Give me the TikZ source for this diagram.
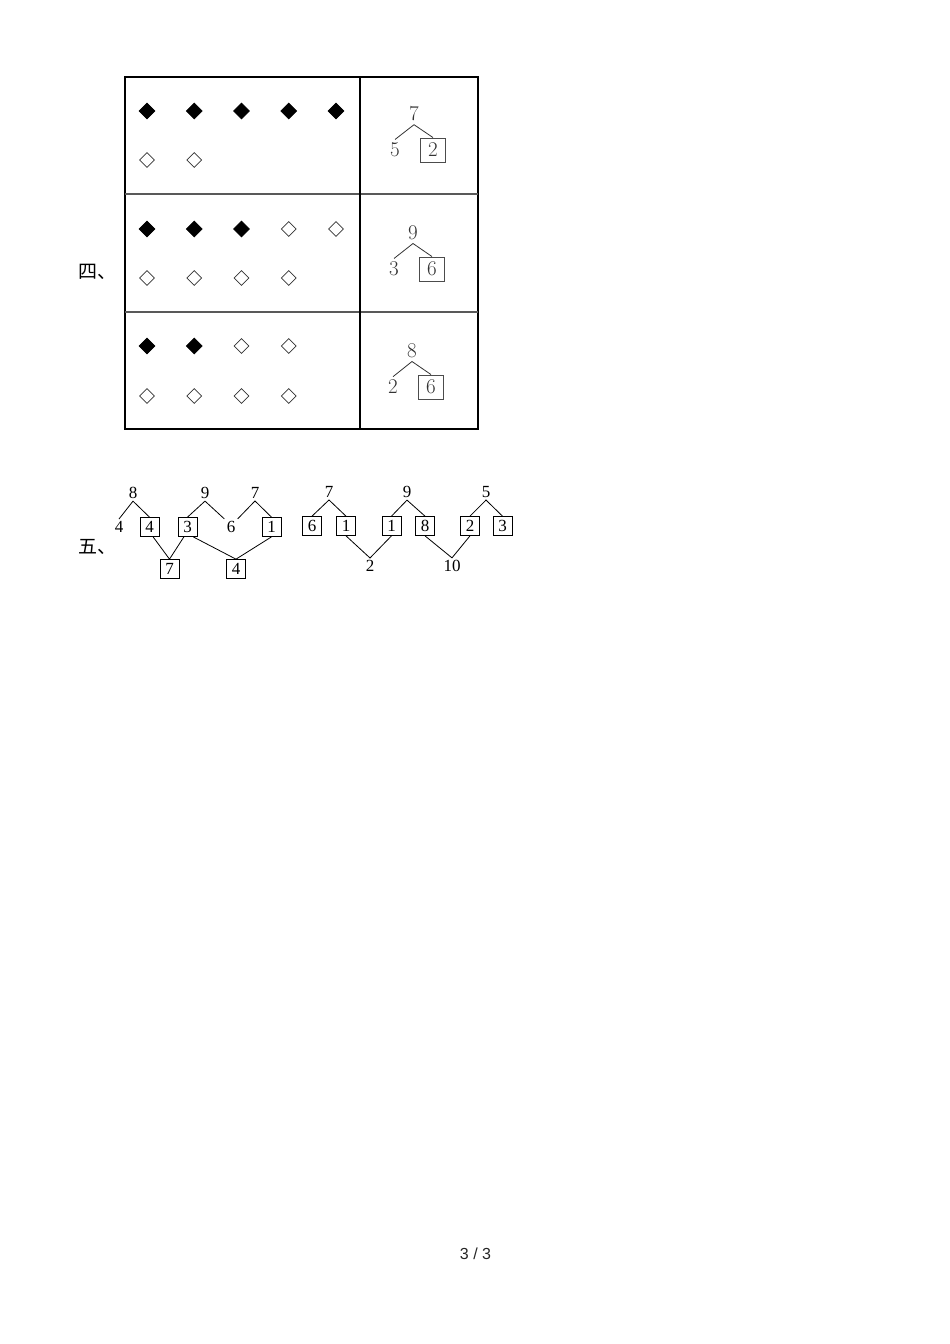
\documentclass[tikz,border=0pt]{standalone}
\usepackage{fontspec}
\newfontfamily\cjkfont{Noto Sans CJK SC}
\newfontfamily\timesfont{Liberation Serif}
\newfontfamily\arialfont{Liberation Sans}
\usepackage{tikz}
\usetikzlibrary{shapes.geometric}
\tikzset{
  dm_b/.style = {diamond, aspect=1, fill=black, draw=black, inner sep=0pt, minimum size=16pt},% filled diamond
  dm_w/.style = {diamond, aspect=1, draw=black!80, line width=0.7pt, inner sep=0pt, minimum size=15pt},% empty diamond
  nd_tbl/.style = {inner sep=3pt, text=black!80, font=\fontsize{21}{21}\selectfont},% number in the table
  bx_tbl/.style = {nd_tbl, draw=black!70, line width=0.9pt, inner sep=0pt, minimum width=25pt, minimum height=24pt},% boxed number in the table
  nd_num/.style = {inner sep=2pt, font=\timesfont\fontsize{17}{17}\selectfont},% number
  bx_num/.style = {nd_num, draw=black, line width=0.7pt, inner sep=0pt, minimum size=19pt},% boxed number
  lbl/.style = {anchor=west, inner sep=0pt, font=\cjkfont\fontsize{19}{19}\selectfont}% part label
}
\begin{document}
\begin{tikzpicture}[x=1pt, y=-1pt, line width=0.8pt, level distance=36pt, sibling distance=38pt,
  edge from parent path={(\tikzparentnode.south) -- (\tikzchildnode.north)},
  edge from parent/.style={draw=black!80, line width=0.8pt}]
\useasboundingbox (0,0) rectangle (950,1344);
% part four
\node[lbl] (p4) at (78,272) {四、};
\draw[line width=1.6pt] (125,77) rectangle (478,429);
\draw[black!65, line width=1.1pt] (125,194) -- (360,194) (125,312) -- (478,312) (360,194) -- (478,194);
\draw[line width=1.1pt] (360,77) -- (360,429);
\foreach \y/\row in {111/{b,b,b,b,b}, 160/{w,w}, 229/{b,b,b,w,w}, 278/{w,w,w,w}, 346/{b,b,w,w}, 396/{w,w,w,w}}
  \foreach \t [count=\i] in \row
    \node[dm_\t] (d\y-\i) at ({147+47.25*(\i-1)},\y) {};
\node[nd_tbl] (t1) at (414,114) {7}
    child{ node [nd_tbl] (t1a) {5}}
    child{ node [bx_tbl] (t1b) {2}};
\node[nd_tbl] (t2) at (413,233) {9}
    child{ node [nd_tbl] (t2a) {3}}
    child{ node [bx_tbl] (t2b) {6}};
\node[nd_tbl] (t3) at (412,351) {8}
    child{ node [nd_tbl] (t3a) {2}}
    child{ node [bx_tbl] (t3b) {6}};
% part five
\node[lbl] (p5) at (78,547) {五、};
\node[nd_num] (n8) at (133,493) {8};
\node[nd_num] (n4) at (119,527) {4};
\node[bx_num] (b4a) at (149.5,527) {4};
\node[bx_num] (b3) at (187.5,527) {3};
\node[nd_num] (n9) at (205,493) {9};
\node[nd_num] (n6) at (231,527) {6};
\node[nd_num] (n7) at (255,493) {7};
\node[bx_num] (b1) at (271.5,527) {1};
\node[bx_num] (b7) at (169.5,569) {7};
\node[bx_num] (b4b) at (236,569) {4};
\draw (n4.north) -- (n8.south) -- (b4a.north);
\draw (b3.north) -- (n9.south) -- (n6.north west);
\draw (n6.north east) -- (n7.south) -- (b1.north);
\draw (b4a.-70) -- (b7.north) -- (b3.-110);
\draw (b3.-60) -- (b4b.north) -- (b1.south);
\node[nd_num] (m7) at (329,492) {7};
\node[bx_num] (c6) at (312,526) {6};
\node[bx_num] (c1) at (346,526) {1};
\node[nd_num] (m9) at (407,492) {9};
\node[bx_num] (c1b) at (391.5,526) {1};
\node[bx_num] (c8) at (425,526) {8};
\node[nd_num] (m5) at (486,492) {5};
\node[bx_num] (c2) at (470,526) {2};
\node[bx_num] (c3) at (502.5,526) {3};
\node[nd_num] (m2) at (370,566) {2};
\node[nd_num] (m10) at (452,566) {10};
\draw (c6.north) -- (m7.south) -- (c1.north);
\draw (c1b.north) -- (m9.south) -- (c8.north);
\draw (c2.north) -- (m5.south) -- (c3.north);
\draw (c1.south) -- (m2.north) -- (c1b.south);
\draw (c8.south) -- (m10.north) -- (c2.south);
% page number
\node[font=\arialfont\fontsize{16}{16}\selectfont, text=black!85] (pg) at (475.5,1254) {3 / 3};
\end{tikzpicture}
\end{document}
